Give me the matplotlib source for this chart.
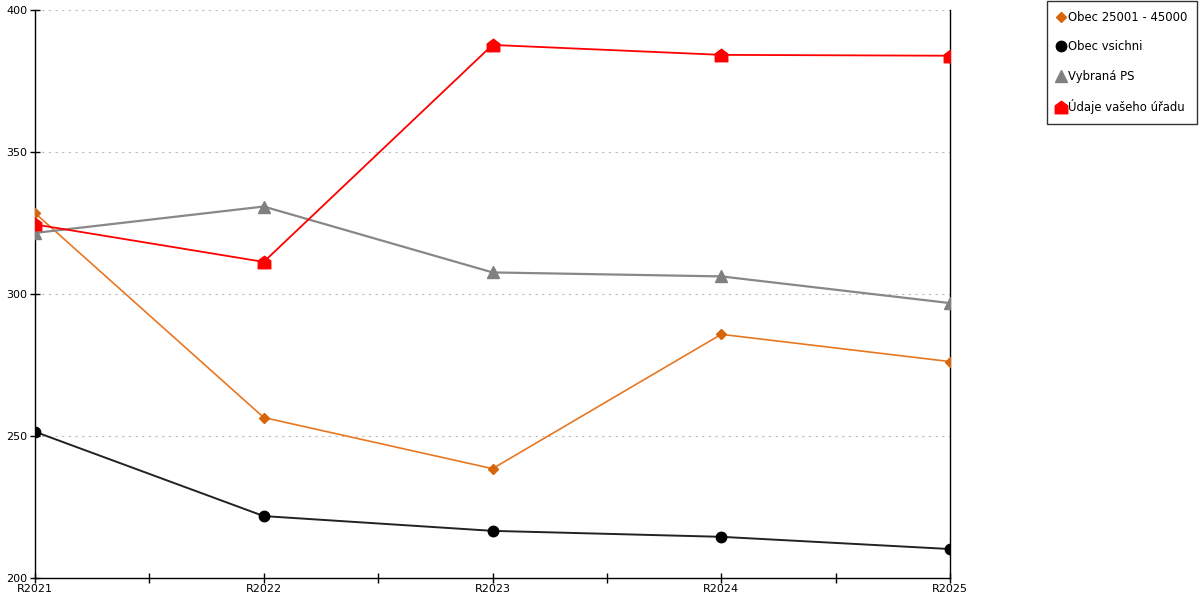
import matplotlib
matplotlib.use("Agg")
from matplotlib import pyplot as plt
from matplotlib.path import Path

roky = ["R2021", "R2022", "R2023", "R2024", "R2025"]

obec_25001_45000 = [328.5, 256.5, 238.5, 285.8, 276.2]
obec_vsichni = [251.5, 221.8, 216.6, 214.5, 210.2]
vybrana_ps = [321.5, 330.8, 307.6, 306.2, 296.8]
udaje_uradu = [324.5, 311.3, 387.7, 384.2, 383.9]

# domecek - znacka pro udaje uradu
domek = Path([(-1, -1), (1, -1), (1, 0.25), (0, 1), (-1, 0.25), (-1, -1)],
             [Path.MOVETO, Path.LINETO, Path.LINETO, Path.LINETO, Path.LINETO, Path.CLOSEPOLY])

fig = plt.figure(figsize=(12, 6), dpi=100)
ax = fig.add_axes([35 / 1200, 22 / 600, 915 / 1200, 568 / 600])

x = list(range(len(roky)))

ax.plot(x, obec_25001_45000, color="#E87722", lw=1.2, marker="D", ms=5.5,
        markerfacecolor="#D9650B", markeredgecolor="#D9650B", label="Obec 25001 - 45000", zorder=3)
ax.plot(x, obec_vsichni, color="#222222", lw=1.4, marker="o", ms=7.5,
        markerfacecolor="black", markeredgecolor="black", label="Obec vsichni", zorder=3)
ax.plot(x, vybrana_ps, color="#888888", lw=1.6, marker="^", ms=8,
        markerfacecolor="#808080", markeredgecolor="#808080", label="Vybraná PS", zorder=3)
ax.plot(x, udaje_uradu, color="#FF0000", lw=1.3, marker=domek, ms=9,
        markerfacecolor="#FF0000", markeredgecolor="#FF0000", label="Údaje vašeho úřadu", zorder=4)

ax.set_xlim(0, len(roky) - 1)
ax.set_ylim(200, 400)
ax.set_yticks([200, 250, 300, 350, 400])
ax.set_xticks(x)
ax.set_xticklabels(roky)
ax.set_xticks([i + 0.5 for i in x[:-1]], minor=True)

ax.grid(axis="y", color="#bbbbbb", linestyle=(0, (2, 4)), lw=0.8)
ax.set_axisbelow(True)

ax.spines["top"].set_visible(False)
for s in ["left", "bottom", "right"]:
    ax.spines[s].set_linewidth(1.0)
    ax.spines[s].set_color("black")

ax.tick_params(axis="both", which="both", direction="inout", length=7, width=1,
               labelsize=8, pad=1)
ax.tick_params(axis="y", length=7, pad=2)

leg = fig.legend(loc="upper right", bbox_to_anchor=(1197 / 1200, 1 - 1 / 600),
                 frameon=True, fancybox=False, edgecolor="black", fontsize=8.4,
                 labelspacing=1.4, handlelength=0.6, handletextpad=0.3,
                 borderpad=0.85, borderaxespad=0)
leg.get_frame().set_linewidth(1.0)
for h in leg.legend_handles:
    h.set_linestyle("None")

fig.savefig("out.png", dpi=100)
